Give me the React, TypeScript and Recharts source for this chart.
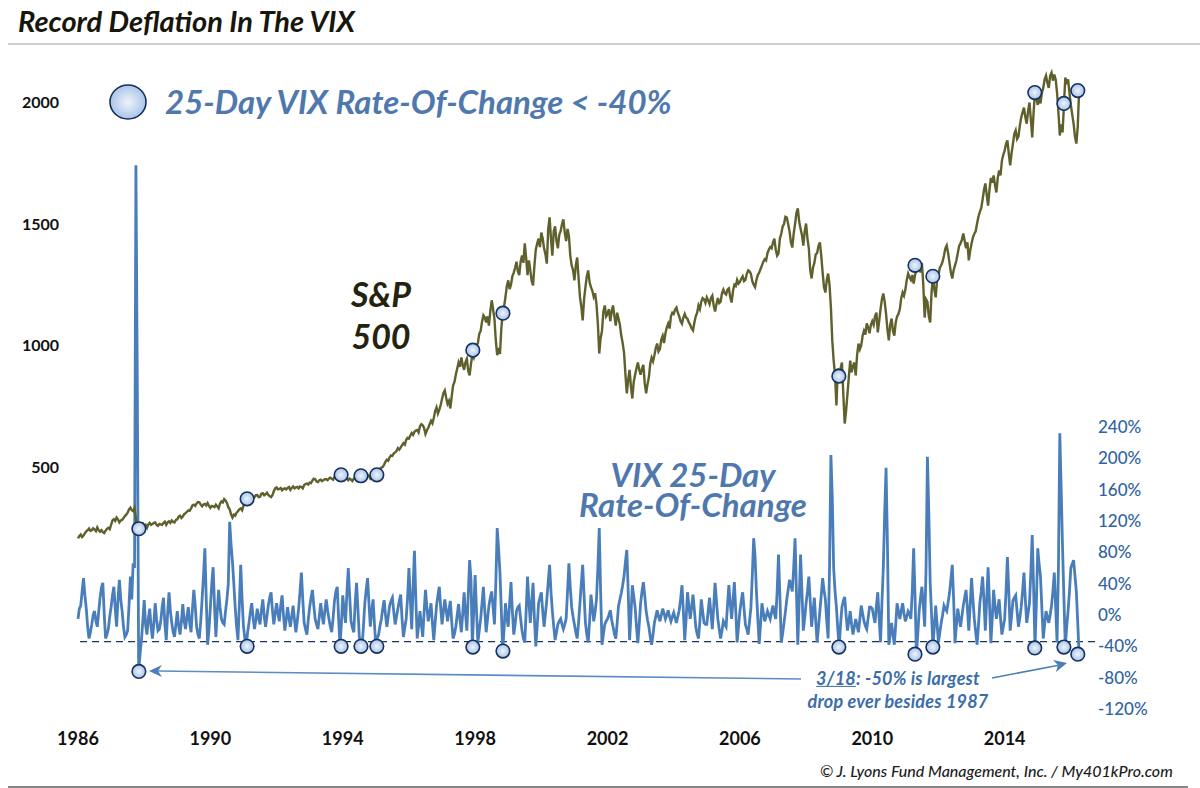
import {
  ComposedChart,
  Line,
  ReferenceLine,
  Scatter,
  XAxis,
  YAxis,
} from "recharts";

const FONT = "Lato, 'Open Sans', sans-serif";
const SPX_COLOR = "#5f602c";
const VIX_COLOR = "#4a7ebb";
const LABEL_BLUE = "#4f78ae";

const START_YEAR = 1986;
const yearTicks = [1986, 1990, 1994, 1998, 2002, 2006, 2010, 2014];
const spxTicks = [500, 1000, 1500, 2000];
const rocTicks = [-120, -80, -40, 0, 40, 80, 120, 160, 200, 240];

// start of each month
const spxValues = [
  206, 222, 218, 235, 247, 240, 243, 252, 234, 232, 238, 250,
  262, 285, 292, 272, 282, 298, 312, 333, 318, 290, 235, 262,
  258, 250, 270, 265, 272, 258, 264, 270, 262, 276, 280, 272,
  285, 300, 296, 310, 322, 330, 345, 350, 355, 338, 348, 352,
  332, 338, 345, 330, 358, 368, 352, 326, 292, 300, 318, 330,
  340, 369, 372, 380, 376, 385, 378, 392, 388, 385, 376, 400,
  416, 410, 404, 412, 414, 406, 420, 416, 412, 418, 426, 432,
  436, 445, 450, 438, 448, 446, 450, 453, 452, 460, 456, 468,
  478, 470, 446, 448, 452, 445, 464, 470, 460, 468, 452, 458,
  468, 485, 498, 510, 530, 540, 546, 560, 578, 580, 598, 612,
  617, 640, 645, 652, 668, 672, 636, 662, 690, 702, 745, 735,
  780, 815, 760, 741, 835, 880, 930, 951, 900, 945, 877, 962,
  980, 1010, 1060, 1124, 1095, 1082, 1186, 1110, 960, 965, 1133, 1200,
  1268, 1250, 1300, 1345, 1290, 1370, 1420, 1290, 1310, 1247, 1395, 1440,
  1465, 1400, 1337, 1527, 1370, 1490, 1400, 1470, 1519, 1430, 1450, 1330,
  1268, 1362, 1200, 1103, 1240, 1309, 1240, 1200, 1170, 967, 1060, 1165,
  1130, 1100, 1165, 1082, 1110, 1040, 970, 803, 900, 782, 880, 930,
  880, 920, 803, 870, 950, 960, 1008, 985, 1040, 1050, 1090, 1120,
  1130, 1156, 1120, 1090, 1130, 1110, 1085, 1062, 1120, 1165, 1180, 1190,
  1198, 1170, 1205, 1140, 1195, 1180, 1230, 1210, 1235, 1177, 1250, 1270,
  1262, 1285, 1270, 1309, 1295, 1250, 1270, 1300, 1330, 1355, 1380, 1405,
  1425, 1395, 1379, 1460, 1500, 1527, 1470, 1403, 1500, 1564, 1480, 1411,
  1502, 1400, 1276, 1340, 1380, 1424, 1300, 1218, 1296, 1156, 938, 753,
  880, 930, 679, 800, 938, 915, 877, 1008, 1000, 1060, 1091, 1050,
  1100, 1120, 1054, 1150, 1214, 1130, 1021, 1111, 1041, 1120, 1150, 1218,
  1230, 1296, 1270, 1255, 1310, 1338, 1340, 1115, 1180, 1095, 1285, 1198,
  1290, 1330, 1370, 1412, 1340, 1276, 1330, 1380, 1420, 1461, 1400, 1350,
  1420, 1460, 1502, 1550, 1600, 1667, 1576, 1690, 1700, 1630, 1720, 1760,
  1802, 1844, 1741, 1830, 1885, 1860, 1938, 1979, 1913, 2000, 1856, 2041,
  1990, 1996, 2060, 2111, 2060, 2123, 2115, 2041, 1864, 1877, 2103, 2095,
  1990, 1913, 1831, 2049,
];

// middle of each month
const spxMid = [
  216, 212, 228, 240, 238, 248, 236, 240, 240, 228, 246, 244,
  280, 278, 284, 280, 290, 304, 326, 322, 332, 240, 250, 268,
  262, 264, 262, 270, 262, 266, 262, 275, 272, 270, 274, 282,
  296, 290, 306, 316, 320, 342, 340, 356, 345, 346, 342, 340,
  340, 335, 338, 350, 354, 362, 335, 305, 304, 312, 326, 322,
  362, 366, 380, 372, 384, 376, 390, 384, 394, 380, 384, 412,
  408, 414, 410, 408, 418, 414, 412, 418, 420, 412, 430, 428,
  434, 452, 440, 446, 442, 450, 446, 456, 448, 464, 450, 472,
  482, 454, 452, 442, 456, 452, 458, 474, 465, 462, 458, 456,
  474, 492, 500, 522, 526, 548, 556, 566, 572, 590, 592, 620,
  630, 632, 650, 642, 676, 660, 650, 676, 680, 730, 720, 755,
  805, 785, 772, 790, 850, 905, 912, 920, 932, 895, 925, 950,
  1000, 1048, 1098, 1115, 1120, 1140, 1150, 1020, 990, 1070, 1160, 1245,
  1232, 1285, 1320, 1305, 1345, 1340, 1360, 1350, 1265, 1330, 1420, 1405,
  1440, 1375, 1480, 1440, 1470, 1430, 1455, 1500, 1465, 1480, 1370, 1310,
  1330, 1280, 1160, 1190, 1285, 1260, 1225, 1215, 1090, 1030, 1140, 1120,
  1150, 1140, 1120, 1135, 1085, 1010, 880, 860, 830, 850, 905, 900,
  905, 845, 840, 925, 935, 990, 975, 1025, 1010, 1075, 1070, 1135,
  1148, 1135, 1100, 1115, 1115, 1095, 1070, 1095, 1135, 1150, 1195, 1175,
  1185, 1195, 1165, 1170, 1175, 1215, 1215, 1230, 1200, 1225, 1245, 1255,
  1275, 1265, 1295, 1305, 1265, 1240, 1290, 1315, 1345, 1350, 1395, 1400,
  1440, 1370, 1440, 1490, 1530, 1500, 1425, 1460, 1545, 1510, 1455, 1470,
  1440, 1310, 1320, 1375, 1410, 1370, 1240, 1270, 1250, 1020, 880, 905,
  905, 800, 730, 870, 890, 930, 960, 985, 1040, 1045, 1075, 1085,
  1085, 1135, 1100, 1190, 1180, 1065, 1085, 1060, 1095, 1130, 1195, 1205,
  1270, 1280, 1290, 1290, 1320, 1300, 1250, 1190, 1120, 1220, 1230, 1270,
  1320, 1345, 1400, 1380, 1300, 1310, 1350, 1410, 1435, 1430, 1425, 1390,
  1445, 1470, 1530, 1565, 1640, 1620, 1640, 1670, 1660, 1690, 1700, 1785,
  1830, 1790, 1790, 1870, 1850, 1905, 1960, 1940, 1965, 1930, 1960, 2020,
  2030, 2040, 2095, 2080, 2110, 2090, 2095, 1960, 1910, 1990, 2075, 2040,
  1950, 1860, 1900,
];

const rocValues = [
  -5, 12, 47, 8, -30, -12, 5, -15, 22, 41, -30, -18,
  10, 36, -15, 45, 5, -28, -20, 49, 66, 574, -72, -32,
  19, -25, 8, -30, 15, -20, -8, 22, -32, 29, -10, -28,
  5, -25, 14, -18, 10, -22, 32, -15, -30, 20, 85, -38,
  10, 61, -28, 32, -5, -12, 20, 119, 68, 10, -32, 64,
  -15, -40, -10, 15, -18, 8, -12, 20, -15, 12, 29, -12,
  15, -8, 25, -20, 10, -15, 12, -22, 8, 54, -10, -25,
  10, 32, -5, -18, 15, -12, 20, -5, -22, 18, 36, -40,
  25, -10, 60, -8, -22, 41, -28, -40, 15, 47, -15, 20,
  -40, -25, -5, 19, -15, 12, 22, -12, 8, 26, -28, -5,
  60, -18, 82, -30, 5, -28, 32, -8, 15, -32, 12, 36,
  -12, 20, -8, 18, -30, -15, 14, -22, 29, -20, 70, -41,
  51, -35, -5, 36, -22, 12, 30, -12, 111, 54, -46, 15,
  -15, 42, -25, 5, 12, -20, -35, 49, -10, 41, -40, 15,
  29, -15, 20, 64, 5, -32, -12, -5, -18, -5, 66, 10,
  -12, -30, 15, 64, -10, -35, 26, -8, 20, 111, -38, -12,
  -5, 6, -15, -30, 12, 28, 50, 83, -32, 38, 10, -36,
  15, 42, 5, -15, -38, -10, 6, -8, 8, -5, 6, -8,
  3, -10, 6, 38, -32, 29, -5, 26, -15, -30, 20, -10,
  -12, 22, -18, 41, -5, -30, -8, -15, 38, -5, 42, -35,
  5, 29, -12, -25, 10, 98, 30, -37, 15, -8, 5, -5,
  12, -5, 77, -35, -10, 20, 45, 30, 98, -38, 77, -20,
  15, 49, -15, 22, -35, 5, 47, 20, -30, 204, 60, 10,
  -41, 10, 23, -20, 5, -25, -5, -22, 12, -8, -18, 10,
  8, -10, 29, -35, 60, 188, -38, -10, -38, 15, -5, 15,
  -8, 5, -5, 85, -50, 5, 36, -15, 202, 41, -41, 12,
  -35, -10, 12, 5, 28, 64, -36, 8, -15, 12, 32, -20,
  47, -5, -38, 15, 49, -20, 61, -36, 32, -5, 20, -25,
  -5, 74, -20, 18, 25, -15, 10, 54, -10, 15, 102, -42,
  85, 49, -30, 5, -10, 12, 54, -35, 232, 85, -41, 5,
  60, 70, 30, -50,
];

const rocMid = [
  8, 30, 25, -15, -22, 0, -8, 4, 35, 2, -25, -2,
  25, 8, 20, 20, -15, -25, 12, 20, 60, 300, -50, -8,
  -12, -5, -15, -10, -6, -18, 10, -12, 2, 5, -22, -12,
  -14, -8, -8, -2, -10, 8, 12, -25, -8, 50, 20, -18,
  40, 12, 5, 10, -10, 5, 40, 90, 40, -15, 12, 20,
  -30, -22, 4, -4, -6, -4, 6, 0, -2, 22, 6, 2,
  2, 12, 0, -6, -4, -2, -6, -8, 30, 20, -18, -6,
  22, 12, -12, -2, 0, 5, 6, -15, -4, 30, -5, -12,
  5, 28, 25, -16, 15, 8, -35, -15, 32, 15, 5, -12,
  -30, -14, 8, 0, -2, 18, 4, -2, 18, -5, -16, 22,
  20, 35, 20, -14, -12, 4, 10, 2, -10, -10, 25, 10,
  5, 6, 6, -8, -24, 0, -6, 2, 2, 25, 45, 8,
  5, -20, 15, 5, -5, 22, 10, 40, 85, 5, -18, -4,
  15, 5, -12, 10, -5, -30, 5, 18, 15, -5, -15, 22,
  5, 2, 42, 30, -15, -22, -8, -12, -12, 30, 35, -2,
  -22, -10, 40, 25, -25, -8, 10, 4, 60, 30, -25, -8,
  0, -6, -24, -10, 20, 38, 68, 30, 0, 24, -15, -12,
  30, 25, -6, -28, -25, -2, -2, 0, 2, 0, -2, -2,
  -4, -2, 20, 5, -5, 12, 10, 6, -24, -8, 5, -12,
  5, 2, 10, 18, -18, -20, -12, 12, 15, 18, 5, -15,
  18, 8, -18, -8, 50, 75, -5, -12, 3, -2, 0, 4,
  2, 30, 25, -24, 4, 32, 38, 60, 30, 18, 30, -4,
  30, 18, 4, -8, -15, 25, 32, -8, 60, 150, 30, -18,
  -12, 18, 0, -8, -12, -15, -14, -5, 2, -14, -4, 10,
  -2, 12, -5, 15, 130, 90, -25, -25, -12, 5, 5, 2,
  -2, 2, 30, 25, -25, 22, 12, 60, 130, 0, -15, -12,
  -22, 0, 8, 16, 45, 20, -14, -4, -2, 22, 8, 12,
  20, -22, -14, 30, 18, 20, 15, -5, 12, 8, -4, -15,
  30, 30, -2, 22, 5, -4, 30, 20, 2, 55, 35, 15,
  65, 8, -12, -2, 0, 30, 10, 60, 160, 20, -15, 30,
  65, 50, -10,
];

const signalYears = [
  1987.84, 1991.11, 1993.95, 1994.55, 1995.03, 1997.93, 1998.84, 2008.99, 2011.29, 2011.83,
  2014.91, 2015.79, 2016.21,
];
const signalSpx = [246, 369, 468, 464, 468, 981, 1133, 874, 1330, 1285, 2041, 1996, 2049];
const signalRoc = [-72, -40, -40, -40, -40, -41, -46, -41, -50, -41, -42, -41, -50];

const table = spxValues.flatMap((spx, i) => {
  const row = { year: START_YEAR + i / 12, spx, roc: rocValues[i] };
  if (i >= spxMid.length) return [row];
  return [row, { year: START_YEAR + (i + 0.5) / 12, spx: spxMid[i], roc: rocMid[i] }];
});
const spxSignals = signalYears.map((year, i) => ({ year, value: signalSpx[i] }));
const rocSignals = signalYears.map((year, i) => ({ year, value: signalRoc[i] }));

function SignalDot({ cx, cy }: { cx?: number; cy?: number }) {
  return <circle cx={cx} cy={cy} r={6.8} fill="url(#signalFill)" stroke="#14315f" strokeWidth={1.6} />;
}

function Label({ x, y, size, color, children, center, weight = 700, spacing = 0, lineHeight = 0.9 }: any) {
  return (
    <div
      style={{
        position: "absolute",
        left: x,
        top: y,
        transform: center ? "translate(-50%, -50%)" : "translateY(-50%)",
        fontFamily: FONT,
        fontStyle: "italic",
        fontWeight: weight,
        fontSize: size,
        letterSpacing: spacing,
        color,
        whiteSpace: "nowrap",
        lineHeight,
        textAlign: "center",
      }}
    >
      {children}
    </div>
  );
}

export default function App() {
  return (
    <div style={{ position: "absolute", left: 0, top: 0, width: 1200, height: 788, background: "#fff", overflow: "hidden" }}>
      <ComposedChart
        width={1200}
        height={788}
        data={table}
        margin={{ top: 50, right: 0, bottom: 0, left: 0 }}
      >
        <defs>
          <radialGradient id="signalFill" cx="50%" cy="50%" r="55%">
            <stop offset="0%" stopColor="#eef4fc" />
            <stop offset="100%" stopColor="#a3bfe6" />
          </radialGradient>
        </defs>
        <XAxis
          dataKey="year"
          type="number"
          domain={[START_YEAR, 2016.73]}
          ticks={yearTicks}
          interval={0}
          height={68}
          axisLine={false}
          tickLine={false}
          tickMargin={6}
          tick={{ fontSize: 18, fontWeight: 700, fill: "#111", fontFamily: FONT }}
        />
        <YAxis
          yAxisId="spx"
          domain={[-541, 2216]}
          ticks={spxTicks}
          interval={0}
          width={78}
          axisLine={false}
          tickLine={false}
          tickMargin={13}
          tick={{ fontSize: 16, fontWeight: 700, fill: "#111", fontFamily: FONT }}
        />
        <YAxis
          yAxisId="roc"
          orientation="right"
          domain={[-134, 721]}
          ticks={rocTicks}
          interval={0}
          width={105}
          axisLine={false}
          tickLine={false}
          tickMargin={-3}
          tickFormatter={(v: number) => `${v}%`}
          tick={{ fontSize: 17, fontWeight: 500, fill: "#2f64a0", fontFamily: FONT }}
        />
        <ReferenceLine yAxisId="roc" y={-34} stroke="#1f3557" strokeWidth={1.2} strokeDasharray="7 5" />
        <Line
          yAxisId="roc"
          dataKey="roc"
          stroke={VIX_COLOR}
          strokeWidth={2.8}
          strokeLinejoin="miter"
          dot={false}
          isAnimationActive={false}
        />
        <Line
          yAxisId="spx"
          dataKey="spx"
          stroke={SPX_COLOR}
          strokeWidth={2.4}
          strokeLinejoin="miter"
          dot={false}
          isAnimationActive={false}
        />
        <Scatter yAxisId="spx" data={spxSignals} dataKey="value" shape={<SignalDot />} isAnimationActive={false} />
        <Scatter yAxisId="roc" data={rocSignals} dataKey="value" shape={<SignalDot />} isAnimationActive={false} />
      </ComposedChart>

      <svg width={1200} height={788} style={{ position: "absolute", left: 0, top: 0, pointerEvents: "none" }}>
        <defs>
          <radialGradient id="legendFill" cx="50%" cy="50%" r="55%">
            <stop offset="0%" stopColor="#eef4fc" />
            <stop offset="100%" stopColor="#a3bfe6" />
          </radialGradient>
        </defs>
        <line x1={8} y1={44} x2={1200} y2={44} stroke="#bdbdbd" strokeWidth={1.5} />
        <line x1={8} y1={787} x2={1188} y2={787} stroke="#111" strokeWidth={1.2} />
        <ellipse cx={128} cy={102} rx={18} ry={17} fill="url(#legendFill)" stroke="#12305c" strokeWidth={1.6} />
        <line x1={801} y1={679} x2={158} y2={671} stroke="#5c8cc4" strokeWidth={1.6} />
        <polygon points="149,671 162,665 158,671 162,677" fill="#4a7ebb" />
        <line x1={992} y1={678} x2={1060} y2={665} stroke="#4a7ebb" strokeWidth={1.6} />
        <polygon points="1067,663 1053,660 1058,665 1056,672" fill="#4a7ebb" />
      </svg>

      <Label x={18} y={21} size={29} color="#16160c">Record Deflation In The VIX</Label>
      <Label x={165} y={102} size={33} color={LABEL_BLUE}>25-Day VIX Rate-Of-Change &lt; -40%</Label>
      <Label x={381} y={294} size={34} color="#23230f" center>S&amp;P</Label>
      <Label x={381} y={336} size={34} color="#23230f" center>500</Label>
      <Label x={693} y={489} size={33} color={LABEL_BLUE} center lineHeight="30px">
        VIX 25-Day
        <br />
        Rate-Of-Change
      </Label>
      <Label x={898} y={678} size={18} color="#3b6ea8" center spacing={0.2}>
        <span style={{ textDecoration: "underline" }}>3/18</span>: -50% is largest
      </Label>
      <Label x={898} y={701} size={18} color="#3b6ea8" center spacing={0.2}>drop ever besides 1987</Label>
      <Label x={820} y={771} size={16} color="#1c1c1c" weight={500}>© J. Lyons Fund Management, Inc. / My401kPro.com</Label>
    </div>
  );
}
